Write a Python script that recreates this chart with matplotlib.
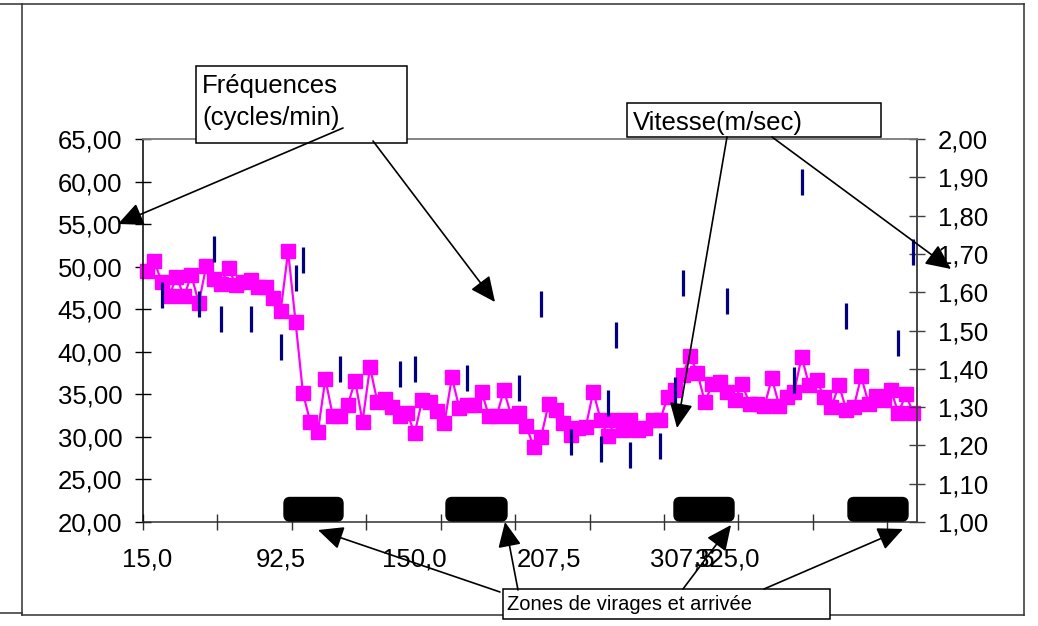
import numpy as np
import matplotlib
matplotlib.use("Agg")
import matplotlib.pyplot as plt
from matplotlib.patches import Rectangle, FancyBboxPatch, FancyArrowPatch
from matplotlib.lines import Line2D
from matplotlib.ticker import FixedLocator, FuncFormatter

# Fréquences (cycles/min), one value per category
freq = [49.5, 50.7, 48.2, 46.5, 48.8, 46.5, 49.0, 45.7, 50.1, 48.6,
        48.0, 49.8, 47.8, 48.2, 48.4, 47.6, 47.6, 46.3, 44.8, 51.8,
        43.5, 35.1, 31.7, 30.6, 36.8, 32.5, 32.4, 33.7, 36.6, 31.8,
        38.2, 34.1, 34.4, 33.5, 32.5, 32.8, 30.4, 34.3, 34.1, 33.0,
        31.6, 37.0, 33.4, 33.7, 33.7, 35.3, 32.4, 32.4, 35.5, 32.4,
        32.8, 31.3, 28.8, 30.0, 33.9, 33.2, 31.6, 30.2, 31.0, 31.2,
        35.3, 32.0, 30.1, 32.0, 30.8, 32.0, 30.8, 31.0, 32.0, 32.0,
        34.7, 35.5, 37.3, 39.5, 37.5, 34.1, 36.2, 36.5, 35.3, 34.3,
        36.2, 33.9, 33.9, 33.6, 36.9, 33.6, 34.7, 35.3, 39.4, 36.1,
        36.7, 34.7, 33.5, 36.1, 33.2, 33.5, 37.1, 33.9, 34.8, 34.3,
        35.5, 32.8, 35.0, 32.8]

# Vitesse (m/sec): category index and value
speed_idx = [2, 7, 9, 10, 14, 18, 20, 21, 26, 34, 36, 43, 50, 53,
             57, 61, 62, 63, 65, 69, 71, 72, 78, 87, 88, 94, 101, 103]
speed = [1.592, 1.568, 1.713, 1.530, 1.530, 1.458, 1.637, 1.683, 1.399, 1.386,
         1.400, 1.377, 1.349, 1.568, 1.210, 1.190, 1.311, 1.488, 1.175, 1.198,
         1.344, 1.623, 1.578, 1.370, 1.889, 1.539, 1.467, 1.704]

x_label_pos = [0.5, 18.5, 36.5, 54.5, 72.5, 78.5]
x_labels = ["15,0", "92,5", "150,0", "207,5", "307,5", "325,0"]

plt.rcParams['font.family'] = ['Liberation Sans', 'DejaVu Sans']

W, H = 1038, 626
fig = plt.figure(figsize=(W / 100, H / 100), dpi=100)
inch = fig.dpi_scale_trans


def P(x, y):
    # reference pixel -> inches from bottom-left
    return (x / 100, (H - y) / 100)


comma2 = FuncFormatter(lambda v, p: f"{v:.2f}".replace('.', ','))

ax = fig.add_axes([143 / W, 1 - 522 / H, (917 - 143) / W, (522 - 139) / H])
x = np.arange(len(freq)) + 0.5
ax.plot(x, freq, color='#FF00FF', lw=1.6, marker='s', ms=10.5,
        mfc='#FF00FF', mec='#FF00FF', clip_on=False)
ax.set_xlim(0, 104)
ax.set_ylim(20, 65)
ax.set_yticks(np.arange(20, 66, 5))
ax.yaxis.set_major_formatter(comma2)
ax.set_xticks(x_label_pos)
ax.set_xticklabels(x_labels)
ax.xaxis.set_minor_locator(FixedLocator(np.arange(0, 101, 10)))
ax.tick_params(axis='x', which='major', length=0, pad=18, labelsize=18.5)
ax.tick_params(axis='x', which='minor', direction='inout', length=12.2, width=1, color='#303030')
ax.tick_params(axis='y', direction='inout', length=12.2, width=1, pad=8.9, labelsize=18.5)

ax2 = ax.twinx()
ax2.plot(np.array(speed_idx) + 0.5, speed, ls='none', marker='|', ms=18.7,
         mew=2.3, color='#000080', clip_on=False)
ax2.set_ylim(1, 2)
ax2.set_yticks(np.arange(1.0, 2.001, 0.1))
ax2.yaxis.set_major_formatter(comma2)
ax2.tick_params(axis='y', direction='inout', length=12.2, width=1, pad=8.9,
                labelsize=18.5, color='#404040')

for a in (ax, ax2):
    a.spines['top'].set_color('#808080')
    a.spines['left'].set_color('black')
    a.spines['bottom'].set_color('#303030')
    a.spines['right'].set_color('#404040')
    for s in a.spines.values():
        s.set_linewidth(1.1)
ax2.spines['left'].set_visible(False)
ax2.spines['bottom'].set_visible(False)

# outer frame lines
frame = [((0, 4), (1024, 4)), ((22, 4), (22, 615)), ((22, 615), (1024, 615)),
         ((1024, 4), (1024, 615)), ((0, 613), (22, 613))]
for (x0, y0), (x1, y1) in frame:
    a0, b0 = P(x0, y0)
    a1, b1 = P(x1, y1)
    fig.add_artist(Line2D([a0, a1], [b0, b1], transform=inch, color='#303030', lw=1.1))

# black zone bars
for x0, x1 in [(284, 343), (446, 507), (674, 734), (848, 908)]:
    bx, by = P(x0, 521)
    fig.add_artist(FancyBboxPatch((bx, by), (x1 - x0) / 100, 0.235,
                                  boxstyle='round,pad=0,rounding_size=0.06',
                                  transform=inch, fc='black', ec='black', zorder=3))

# text boxes
boxes = [(196, 66, 407, 143), (627, 103, 881, 137), (503, 589, 830, 619)]
for x0, y0, x1, y1 in boxes:
    fig.add_artist(Rectangle(P(x0, y1), (x1 - x0) / 100, (y1 - y0) / 100,
                             transform=inch, fc='white', ec='black', lw=1.1, zorder=4))

texts = [(202, 93.5, "Fréquences", 18.5), (202, 125, "(cycles/min)", 18.5),
         (633, 130, "Vitesse(m/sec)", 18.5), (507, 610, "Zones de virages et arrivée", 14.5)]
for tx, ty, s, fs in texts:
    a, b = P(tx, ty)
    fig.text(a, b, s, transform=inch, fontsize=fs, ha='left', va='baseline', zorder=5)

# arrows
arrows = [((343, 128), (118, 224)), ((373, 141), (495, 302)),
          ((727, 137), (677, 428)), ((772, 137), (951, 269)),
          ((500, 592), (318, 530)), ((518, 590), (505, 522)),
          ((683, 589), (731, 525)), ((764, 589), (903, 529))]
for start, end in arrows:
    fig.add_artist(FancyArrowPatch(P(*start), P(*end), transform=inch,
                                   arrowstyle='-|>,head_length=15.5,head_width=7.2',
                                   mutation_scale=1, shrinkA=0, shrinkB=0,
                                   color='black', lw=1.2, zorder=6))

fig.savefig('out.png', dpi=100)
